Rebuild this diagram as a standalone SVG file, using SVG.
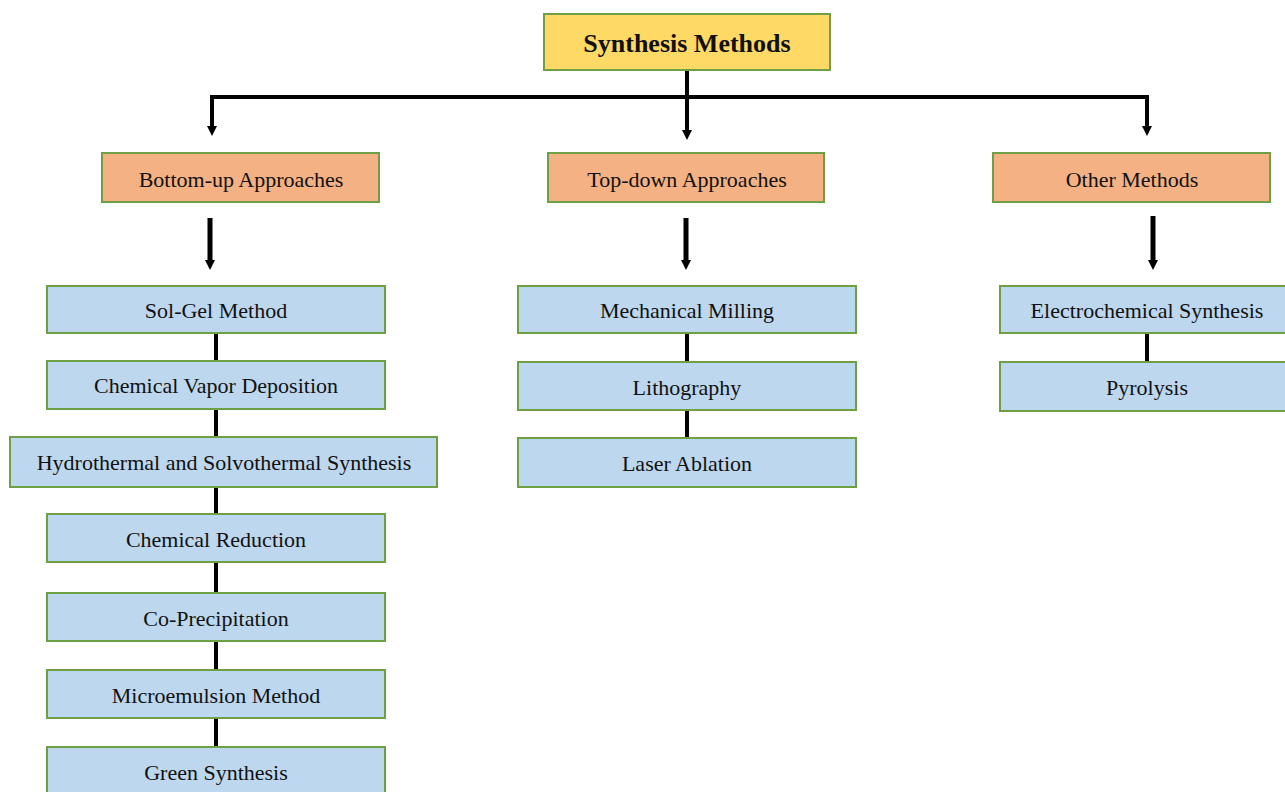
<svg xmlns="http://www.w3.org/2000/svg" width="1285" height="792" viewBox="0 0 1285 792">
<style>
.box{stroke:#6E9F45;stroke-width:2}
.root{fill:#FFD966}
.cat{fill:#F4B183}
.leaf{fill:#BDD7EE}
text{font-family:"Liberation Serif","Times New Roman",serif;font-size:22px;fill:#111;text-anchor:middle;dominant-baseline:central}
.title{font-size:26px;font-weight:bold}
.ln{stroke:#000;stroke-width:4;fill:none}
.ln5{stroke:#000;stroke-width:5;fill:none}
</style>
<defs>
<marker id="ah" markerWidth="12" markerHeight="12" refX="4" refY="6" orient="auto" markerUnits="userSpaceOnUse">
<path d="M0,1 L10,6 L0,11 z" fill="#000"/>
</marker>
</defs>
<rect width="1285" height="792" fill="#fff"/>
<g id="connectors">
<path class="ln" d="M210,97 H1149"/>
<path class="ln" d="M212,97 V130" marker-end="url(#ah)"/>
<path class="ln" d="M687,70 V134" marker-end="url(#ah)"/>
<path class="ln" d="M1147,97 V130" marker-end="url(#ah)"/>
<path class="ln5" d="M210,218 V264" marker-end="url(#ah)"/>
<path class="ln5" d="M686,218 V264" marker-end="url(#ah)"/>
<path class="ln5" d="M1153,216 V264" marker-end="url(#ah)"/>
<path class="ln" d="M216,333 V361 M216,409 V437 M216,487 V514 M216,562 V593 M216,641 V670 M216,718 V747"/>
<path class="ln" d="M687,333 V362 M687,410 V438"/>
<path class="ln" d="M1147,333 V362"/>
</g>
<g id="root"><rect class="box root" x="544" y="14" width="286" height="56"/><text class="title" x="687" y="43">Synthesis Methods</text></g>
<g id="bottomup"><rect class="box cat" x="102" y="153" width="277" height="49"/><text x="241" y="179">Bottom-up Approaches</text></g>
<g id="topdown"><rect class="box cat" x="548" y="153" width="276" height="49"/><text x="687" y="179">Top-down Approaches</text></g>
<g id="other"><rect class="box cat" x="993" y="153" width="277" height="49"/><text x="1132" y="179">Other Methods</text></g>
<g id="solgel"><rect class="box leaf" x="47" y="286" width="338" height="47"/><text x="216" y="310">Sol-Gel Method</text></g>
<g id="cvd"><rect class="box leaf" x="47" y="361" width="338" height="48"/><text x="216" y="385">Chemical Vapor Deposition</text></g>
<g id="hydro"><rect class="box leaf" x="10" y="437" width="427" height="50"/><text x="224" y="462">Hydrothermal and Solvothermal Synthesis</text></g>
<g id="chemred"><rect class="box leaf" x="47" y="514" width="338" height="48"/><text x="216" y="539">Chemical Reduction</text></g>
<g id="coprec"><rect class="box leaf" x="47" y="593" width="338" height="48"/><text x="216" y="618">Co-Precipitation</text></g>
<g id="micro"><rect class="box leaf" x="47" y="670" width="338" height="48"/><text x="216" y="695">Microemulsion Method</text></g>
<g id="green"><rect class="box leaf" x="47" y="747" width="338" height="50"/><text x="216" y="772">Green Synthesis</text></g>
<g id="milling"><rect class="box leaf" x="518" y="286" width="338" height="47"/><text x="687" y="310">Mechanical Milling</text></g>
<g id="litho"><rect class="box leaf" x="518" y="362" width="338" height="48"/><text x="687" y="387">Lithography</text></g>
<g id="laser"><rect class="box leaf" x="518" y="438" width="338" height="49"/><text x="687" y="463">Laser Ablation</text></g>
<g id="electro"><rect class="box leaf" x="1000" y="286" width="290" height="47"/><text x="1147" y="310">Electrochemical Synthesis</text></g>
<g id="pyro"><rect class="box leaf" x="1000" y="362" width="290" height="49"/><text x="1147" y="387">Pyrolysis</text></g>
</svg>
